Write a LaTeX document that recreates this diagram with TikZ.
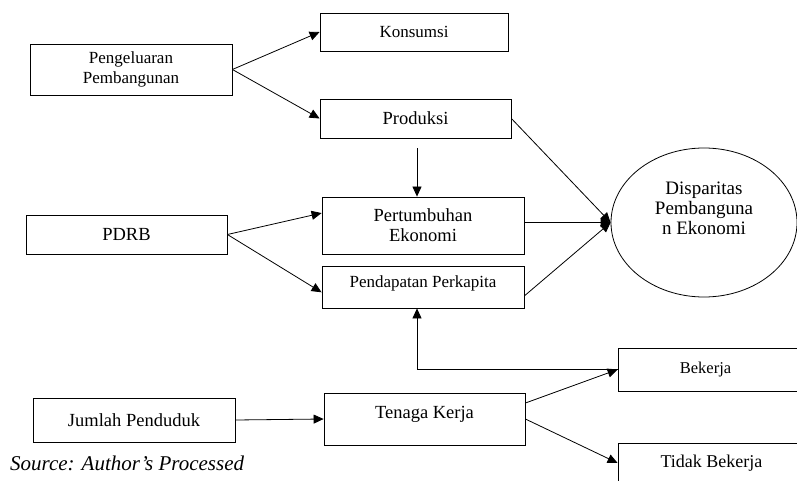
\documentclass[tikz,border=0pt]{standalone}
\usepackage{fontspec}
\setmainfont{Liberation Serif}
\usetikzlibrary{shapes.geometric, arrows.meta, positioning}
\tikzset{
  box/.style={draw=black, line width=0.8pt, rectangle, align=center, inner sep=0pt, font=\fontsize{17}{20}\selectfont},
  bigbox/.style={box, font=\fontsize{18.5}{20}\selectfont},
  arr/.style={draw=black, line width=0.8pt, -{Triangle[length=10pt,width=9pt]}},
}

\begin{document}
\begin{tikzpicture}[x=1pt, y=-1pt]
  \useasboundingbox (0,0) rectangle (797,481);
  \fill[white] (0,0) rectangle (797,481);
  \clip (0,0) rectangle (797,481);
  % Inputs
  \node[box, minimum width=202pt, minimum height=51pt] (peng) at (131,69.5) {Pengeluaran\\Pembangunan};
  \node[bigbox, minimum width=201pt, minimum height=39pt] (pdrb) at (126.5,234.5) {PDRB};
  \node[bigbox, minimum width=202pt, minimum height=44pt] (jml) at (134,420) {Jumlah Penduduk};
  % Middle column
  \node[box, minimum width=188pt, minimum height=38pt] (kons) at (414,32) {Konsumsi};
  \node[bigbox, minimum width=191pt, minimum height=39pt] (prod) at (415.5,118.5) {Produksi};
  \node[bigbox, minimum width=202pt, minimum height=57pt] (pert) at (423,225.5) {Pertumbuhan\\Ekonomi};
  \node[box, minimum width=202pt, minimum height=42pt, text depth=10pt] (pend) at (423,287) {Pendapatan Perkapita};
  \node[bigbox, minimum width=201pt, minimum height=52pt, text depth=14pt] (ten) at (424.5,419) {Tenaga Kerja};
  % Right side
  \node[draw=black, line width=0.8pt, ellipse, align=center, inner sep=0pt, font=\fontsize{19}{20}\selectfont,
        minimum width=186pt, minimum height=149pt] (disp) at (704,222.5) {Disparitas\\Pembanguna\\n Ekonomi\\[8pt]~};
  \node[box, font=\fontsize{16.5}{20}\selectfont, minimum width=187pt, minimum height=43pt] (bek) at (711.5,369.5) {Bekerja\kern12pt};
  \node[box, font=\fontsize{18}{20}\selectfont, minimum width=187pt, minimum height=40pt] (tid) at (711.5,463) {Tidak Bekerja};
  \node[anchor=west, inner sep=0pt, font=\fontsize{21}{22}\selectfont\itshape] (src) at (10,463) {Source: Author's Processed};
  % Connectors
  \draw[arr] (peng.east) -- (kons.west);
  \draw[arr] (peng.east) -- (prod.west);
  \draw[arr, shorten <=10pt] ([xshift=1.5pt]prod.south) -- ([xshift=1.5pt]prod.south |- pert.north);
  \draw[arr] (prod.east) -- (disp.west);
  \draw[arr] (pert.east |- disp.west) -- (disp.west);
  \draw[arr] (pend.-5) -- (disp.west);
  \draw[arr] (pdrb.east) -- (pert.173);
  \draw[arr] (pdrb.east) -- (pend.183);
  \draw[arr] (bek.west) -| ([xshift=-6pt]pend.south);
  \draw[arr] (jml.east) -- (ten.west);
  \draw[arr] (ten.9) -- (bek.west);
  \draw[arr] (ten.east) -- (tid.west);
\end{tikzpicture}
\end{document}
